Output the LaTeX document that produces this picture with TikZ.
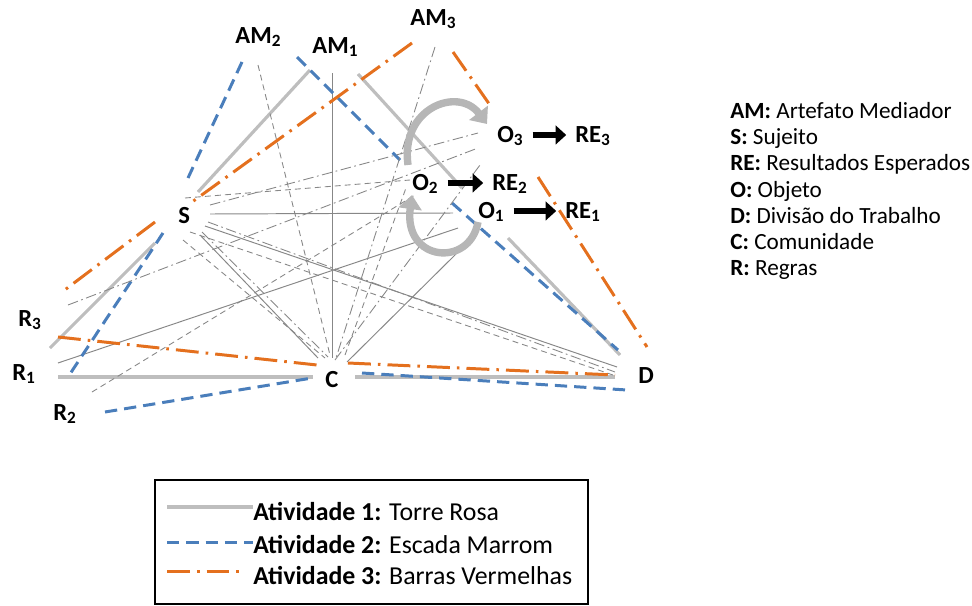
\documentclass[tikz,border=0pt]{standalone}
\usepackage{fontspec}
\setmainfont{Carlito}
\usetikzlibrary{arrows.meta}

\definecolor{act1col}{RGB}{190,190,190}
\definecolor{act2col}{RGB}{74,126,187}
\definecolor{act3col}{RGB}{228,112,30}
\definecolor{thincol}{RGB}{135,135,135}
\definecolor{cyclecol}{RGB}{182,182,182}

\tikzset{
  act1/.style={act1col, line width=1.8pt},
  act2/.style={act2col, line width=1.7pt, dash pattern=on 7pt off 4pt},
  act3/.style={act3col, line width=1.7pt, dash pattern=on 13pt off 4pt on 1.5pt off 4pt},
  in1/.style={thincol, line width=0.55pt},
  in2/.style={thincol, line width=0.5pt, dash pattern=on 3.4pt off 2.3pt},
  in3/.style={thincol, line width=0.5pt, dash pattern=on 6pt off 2pt on 1pt off 2pt},
  vlabel/.style={anchor=base west, inner sep=0pt, font=\fontsize{14}{16}\selectfont\bfseries},
  keytext/.style={anchor=base west, inner sep=0pt, font=\fontsize{13.2}{15}\selectfont},
  boxtext/.style={anchor=base west, inner sep=0pt, font=\fontsize{14.7}{17}\selectfont},
  cycle arrow/.style={cyclecol, line width=4.2pt, -{Triangle[length=8pt,width=13pt]}},
  result arrow/.style={black, line width=3.8pt, -{Triangle[length=6pt,width=10.5pt]}},
}

\begin{document}
\begin{tikzpicture}[x=0.02cm, y=-0.02cm]
  \useasboundingbox (0,0) rectangle (972,605);

  % Activity 1: gray solid
  \coordinate (am1L) at (310,70);  \coordinate (s1T) at (198,192);
  \coordinate (am1R) at (358,74);  \coordinate (o1T) at (462,188);
  \coordinate (o1B) at (508,238);  \coordinate (d1T) at (620,355);
  \coordinate (s1B) at (155,243);  \coordinate (r1T) at (50,348);
  \coordinate (r1B) at (58,377);   \coordinate (c1L) at (313,377);
  \coordinate (c1R) at (355,377);  \coordinate (d1L) at (615,377);
  \draw[act1] (am1L) -- (s1T);
  \draw[act1] (am1R) -- (o1T);
  \draw[act1] (o1B) -- (d1T);
  \draw[act1] (s1B) -- (r1T);
  \draw[act1] (r1B) -- (c1L);
  \draw[act1] (c1R) -- (d1L);

  % inner lines of activity 1
  \coordinate (s1O) at (210,214);  \coordinate (o1S) at (453,213);
  \coordinate (am1C) at (332,73);  \coordinate (c1A) at (332,358);
  \coordinate (s1C) at (200,235);  \coordinate (c1S) at (318,358);
  \coordinate (s1D) at (205,226);  \coordinate (d1S) at (617,367);
  \coordinate (r1O) at (58,363);   \coordinate (o1R) at (458,228);
  \coordinate (c1O) at (347,362);  \coordinate (o1C) at (458,252);
  \draw[in1] (s1O) -- (o1S);
  \draw[in1] (am1C) -- (c1A);
  \draw[in1] (s1C) -- (c1S);
  \draw[in1] (s1D) -- (d1S);
  \draw[in1] (r1O) -- (o1R);
  \draw[in1] (c1O) -- (o1C);

  % Activity 2: blue dashed
  \coordinate (am2L) at (242,62);  \coordinate (s2T) at (188,178);
  \coordinate (am2R) at (297,57);  \coordinate (o2T) at (400,160);
  \coordinate (o2B) at (452,203);  \coordinate (d2T) at (618,350);
  \coordinate (s2B) at (163,233);  \coordinate (r2T) at (68,377);
  \coordinate (r2B) at (105,412);  \coordinate (c2L) at (312,378);
  \coordinate (c2R) at (362,373);  \coordinate (d2L) at (627,390);
  \draw[act2] (am2L) -- (s2T);
  \draw[act2] (am2R) -- (o2T);
  \draw[act2] (o2B) -- (d2T);
  \draw[act2] (s2B) -- (r2T);
  \draw[act2] (r2B) -- (c2L);
  \draw[act2] (c2R) -- (d2L);

  % inner lines of activity 2
  \coordinate (s2O) at (185,198);  \coordinate (o2S) at (410,180);
  \coordinate (am2C) at (258,65);  \coordinate (c2A) at (330,355);
  \coordinate (s2C) at (183,240);  \coordinate (c2S) at (325,358);
  \coordinate (s2D) at (190,232);  \coordinate (d2S) at (613,375);
  \coordinate (r2O) at (92,392);   \coordinate (o2R) at (415,195);
  \coordinate (c2O) at (345,355);  \coordinate (o2C) at (406,188);
  \draw[in2] (s2O) -- (o2S);
  \draw[in2] (am2C) -- (c2A);
  \draw[in2] (s2C) -- (c2S);
  \draw[in2] (s2D) -- (d2S);
  \draw[in2] (r2O) -- (o2R);
  \draw[in2] (c2O) -- (o2C);

  % Activity 3: orange dash-dot
  \coordinate (am3L) at (412,43);  \coordinate (s3T) at (192,202);
  \coordinate (s3B) at (155,222);  \coordinate (r3T) at (62,292);
  \coordinate (am3R) at (453,52);  \coordinate (o3T) at (492,108);
  \coordinate (o3B) at (538,177);  \coordinate (d3T) at (647,347);
  \coordinate (r3B) at (58,337);   \coordinate (c3L) at (317,365);
  \coordinate (c3R) at (348,363);  \coordinate (d3L) at (615,375);
  \draw[act3] (am3L) -- (s3T);
  \draw[act3] (s3B) -- (r3T);
  \draw[act3] (am3R) -- (o3T);
  \draw[act3] (o3B) -- (d3T);
  \draw[act3] (r3B) -- (c3L);
  \draw[act3] (c3R) -- (d3L);

  % inner lines of activity 3
  \coordinate (s3O) at (210,205);  \coordinate (o3S) at (478,133);
  \coordinate (am3C) at (435,47);  \coordinate (c3A) at (336,358);
  \coordinate (s3C) at (202,232);  \coordinate (c3S) at (328,357);
  \coordinate (s3D) at (208,222);  \coordinate (d3S) at (615,372);
  \coordinate (r3O) at (68,305);   \coordinate (o3R) at (478,148);
  \coordinate (c3O) at (335,360);  \coordinate (o3C) at (480,165);
  \draw[in3] (s3O) -- (o3S);
  \draw[in3] (am3C) -- (c3A);
  \draw[in3] (s3C) -- (c3S);
  \draw[in3] (s3D) -- (d3S);
  \draw[in3] (r3O) -- (o3R);
  \draw[in3] (c3O) -- (o3C);

  % cycle between the objects
  \coordinate (cycA) at (408,165);  \coordinate (cycB) at (487,124);
  \coordinate (cycC) at (478,222);  \coordinate (cycD) at (412,195);
  \draw[cycle arrow] (cycA) .. controls (400,108) and (458,86) .. (cycB);
  \draw[cycle arrow] (cycC) .. controls (470,268) and (403,262) .. (cycD);

  % vertex labels
  \node[vlabel] (AM2) at (235,43) {AM\textsubscript{2}};
  \node[vlabel] (AM1) at (312,53) {AM\textsubscript{1}};
  \node[vlabel] (AM3) at (410,25) {AM\textsubscript{3}};
  \node[vlabel] (S) at (178,223) {S};
  \node[vlabel] (O3) at (497,142) {O\textsubscript{3}};
  \node[vlabel] (RE3) at (575,142) {RE\textsubscript{3}};
  \node[vlabel] (O2) at (412,190) {O\textsubscript{2}};
  \node[vlabel] (RE2) at (492,190) {RE\textsubscript{2}};
  \node[vlabel] (O1) at (478,218) {O\textsubscript{1}};
  \node[vlabel] (RE1) at (565,218) {RE\textsubscript{1}};
  \node[vlabel] (R3) at (18,326) {R\textsubscript{3}};
  \node[vlabel] (R1) at (12,380) {R\textsubscript{1}};
  \node[vlabel] (R2) at (53,420) {R\textsubscript{2}};
  \node[vlabel] (C) at (325,387) {C};
  \node[vlabel] (D) at (638,383) {D};

  % objects to expected results
  \draw[result arrow, shorten <=5pt, shorten >=5pt] ([yshift=4pt]O3.base east) -- ([yshift=4pt]O3.base east -| RE3.base west);
  \draw[result arrow, shorten <=5pt, shorten >=5pt] ([yshift=4pt]O2.base east) -- ([yshift=4pt]O2.base east -| RE2.base west);
  \draw[result arrow, shorten <=5pt, shorten >=5pt] ([yshift=4pt]O1.base east) -- ([yshift=4pt]O1.base east -| RE1.base west);

  % key of the letters
  \node[keytext] (kAM) at (730,118) {\textbf{AM:} Artefato Mediador};
  \node[keytext] (kS) at (730,144) {\textbf{S:} Sujeito};
  \node[keytext] (kRE) at (730,170) {\textbf{RE:} Resultados Esperados};
  \node[keytext] (kO) at (730,197) {\textbf{O:} Objeto};
  \node[keytext] (kD) at (730,223) {\textbf{D:} Divisão do Trabalho};
  \node[keytext] (kC) at (730,249) {\textbf{C:} Comunidade};
  \node[keytext] (kR) at (730,275) {\textbf{R:} Regras};

  % legend box
  \draw[black, line width=0.7pt] (155,604) -- (155,480) -- (588,480) -- (588,604) -- cycle;
  \node[boxtext] (leg1) at (253,520) {\textbf{Atividade 1:} Torre Rosa};
  \node[boxtext] (leg2) at (253,553) {\textbf{Atividade 2:} Escada Marrom};
  \node[boxtext] (leg3) at (253,584) {\textbf{Atividade 3:} Barras Vermelhas};
  \coordinate (key1) at (167,507);  \coordinate (key2) at (167,542);  \coordinate (key3) at (167,571);
  \draw[act1] (key1) -- (key1 -| leg1.west);
  \draw[act2] (key2) -- (key2 -| leg2.west);
  \draw[act3] (key3) -- ([xshift=-7pt]key3 -| leg3.west);
\end{tikzpicture}
\end{document}
